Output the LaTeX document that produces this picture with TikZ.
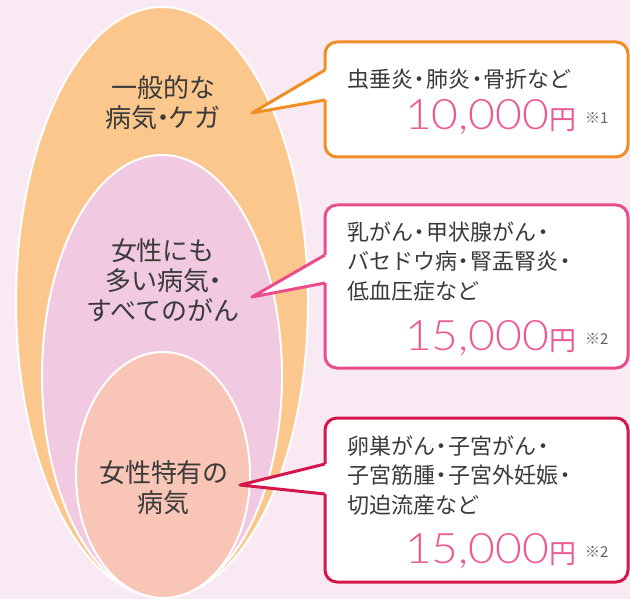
\documentclass[tikz,border=0pt]{standalone}
\usepackage{fontspec}
\usepackage{graphicx}
\setmainfont{Noto Sans CJK JP}
\newfontfamily\numfont{Lato}[UprightFont={* Light}]
\definecolor{bgpink}{HTML}{F8E9F3}
\definecolor{eggout}{HTML}{FBC78D}
\definecolor{eggmid}{HTML}{F1C9E1}
\definecolor{eggin}{HTML}{F8C5B6}
\definecolor{lineone}{HTML}{F18D25}
\definecolor{linetwo}{HTML}{EA4C8C}
\definecolor{linethree}{HTML}{D3164C}
\definecolor{pricepink}{HTML}{EC5A93}
\definecolor{ink}{HTML}{3A3A3A}
\newcommand{\enmark}{{\fontsize{27}{27}\selectfont 円}}
\newcommand{\nakadot}{\makebox[0.6em]{・}}
\newcommand{\wide}[1]{\scalebox{1.1}[1]{\numfont #1}}
\tikzset{
	egg/.style={draw=white, line width=2pt},
	eggtext/.style={text=ink, align=center, font=\fontsize{26}{30}\selectfont},
	callout/.style={fill=white, line width=3pt, rounded corners=12pt, anchor=north west, outer sep=0pt, inner sep=0pt, minimum width=303pt},
	listtext/.style={text=ink, align=left, anchor=north west, inner sep=0pt, font=\fontsize{22}{29.5}\selectfont},
	price/.style={text=pricepink, anchor=base west, inner sep=0pt, font=\fontsize{42}{42}\selectfont},
	note/.style={text=ink!80, anchor=base west, inner sep=0pt, font=\fontsize{15}{15}\selectfont}
}
\begin{document}
\begin{tikzpicture}[x=1pt, y=-1pt]
	\fill[bgpink] (0,0) rectangle (630,599);
	\useasboundingbox (0,0) rectangle (630,599);
	% nested ovals
	\draw[egg, fill=eggout] (162,302) ellipse [x radius=146, y radius=295];
	\draw[egg, fill=eggmid] (162,376) ellipse [x radius=120, y radius=221];
	\draw[egg, fill=eggin] (163,475) ellipse [x radius=87, y radius=123];
	\node (egg1) [eggtext] at (163,103) {一般的な\\病気\makebox[0.45em]{・}ケガ};
	\node (egg2) [eggtext] at (163,280) {女性にも\\多い病気\makebox[0.45em]{・}\\すべてのがん};
	\node (egg3) [eggtext] at (164,488) {女性特有の\\病気};
	% callouts
	\node (box1) [callout, draw=lineone, minimum height=115pt] at (325,42) {};
	\node (box2) [callout, draw=linetwo, minimum height=163pt] at (325,205) {};
	\node (box3) [callout, draw=linethree, minimum height=164pt] at (325,418) {};
	\coordinate (tip1) at (252,113);
	\coordinate (tip2) at (252,297);
	\coordinate (tip3) at (240,485);
	\foreach \b/\c/\u/\l in {1/lineone/28/58, 2/linetwo/50/78, 3/linethree/46/76} {
		\fill[white] ([yshift=-\u pt]box\b.north west) -- (tip\b) -- ([yshift=-\l pt]box\b.north west)
			-- ([shift={(4pt,-\l pt)}]box\b.north west) -- ([shift={(4pt,-\u pt)}]box\b.north west) -- cycle;
		\draw[\c, line width=3pt, line join=round] ([yshift=-\u pt]box\b.north west) -- (tip\b) -- ([yshift=-\l pt]box\b.north west);
	}
	\node (list1) [listtext, anchor=base west] at (347,87.5) {虫垂炎\nakadot 肺炎\nakadot 骨折など};
	\node (list2) [listtext] at (347,221.5) {乳がん\nakadot 甲状腺がん\nakadot\\バセドウ病\nakadot 腎盂腎炎\nakadot\\低血圧症など};
	\node (list3) [listtext] at (347,435.5) {卵巣がん\nakadot 子宮がん\nakadot\\子宮筋腫\nakadot 子宮外妊娠\nakadot\\切迫流産など};
	\node (price1) [price] at (405,130) {\wide{10,000}\enmark};
	\node (price2) [price] at (405,350) {\wide{15,000}\enmark};
	\node (price3) [price] at (405,563) {\wide{15,000}\enmark};
	\node (note1) [note] at (585,124) {※1};
	\node (note2) [note] at (585,344) {※2};
	\node (note3) [note] at (585,557) {※2};
\end{tikzpicture}
\end{document}
